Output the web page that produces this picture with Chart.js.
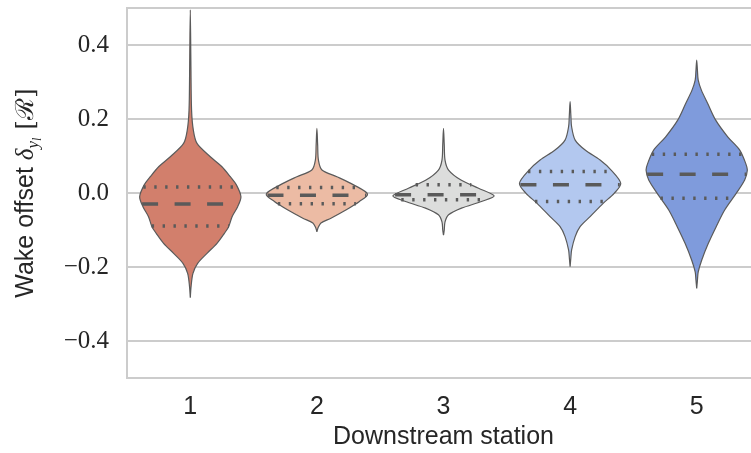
<!DOCTYPE html>
<html lang="en">
<head>
    <meta charset="UTF-8">
    <title>Wake offset per downstream station</title>
    <script src="https://cdn.jsdelivr.net/npm/chart.js@4.4.1/dist/chart.umd.min.js"></script>
    <style>
        html, body { margin: 0; padding: 0; overflow: hidden; background: #fff; }
        #play { width: 760px; height: 453px; }
    </style>
</head>
<body>
<div id="play">
    <canvas id="myChart" width="760" height="453"></canvas>
</div>
<script>
    // categories
    const stations = ['1', '2', '3', '4', '5'];

    // violin outlines: y value and half width (in category units) from bottom tip to top tip
    const v1Y = [-0.283, -0.253, -0.217, -0.190, -0.163, -0.136, -0.109, -0.091, -0.064, -0.037, -0.010, 0.022, 0.044, 0.071, 0.098, 0.134, 0.170, 0.224, 0.341, 0.495];
    const v1W = [0, 0.006, 0.021, 0.058, 0.132, 0.211, 0.269, 0.303, 0.330, 0.374, 0.400, 0.364, 0.316, 0.250, 0.158, 0.053, 0.024, 0.010, 0.005, 0];
    const v2Y = [-0.105, -0.095, -0.081, -0.068, -0.046, -0.023, -0.003, 0.022, 0.044, 0.062, 0.089, 0.130, 0.175];
    const v2W = [0, 0.008, 0.032, 0.111, 0.229, 0.336, 0.400, 0.290, 0.158, 0.040, 0.012, 0.006, 0];
    const v3Y = [-0.114, -0.100, -0.078, -0.059, -0.041, -0.023, -0.008, 0.013, 0.035, 0.062, 0.089, 0.130, 0.175];
    const v3W = [0, 0.006, 0.012, 0.040, 0.142, 0.300, 0.400, 0.277, 0.138, 0.040, 0.012, 0.006, 0];
    const v4Y = [-0.199, -0.175, -0.154, -0.118, -0.091, -0.064, -0.028, -0.001, 0.026, 0.062, 0.089, 0.116, 0.143, 0.179, 0.210, 0.247];
    const v4W = [0, 0.006, 0.012, 0.040, 0.079, 0.158, 0.261, 0.348, 0.400, 0.324, 0.237, 0.119, 0.040, 0.012, 0.006, 0];
    const v5Y = [-0.258, -0.235, -0.213, -0.181, -0.136, -0.091, -0.046, -0.001, 0.035, 0.062, 0.080, 0.116, 0.152, 0.197, 0.242, 0.278, 0.305, 0.330, 0.359];
    const v5W = [0, 0.006, 0.012, 0.040, 0.092, 0.154, 0.221, 0.312, 0.379, 0.400, 0.387, 0.340, 0.245, 0.150, 0.087, 0.037, 0.012, 0.006, 0];

    // quartiles [q1, median, q3]
    const q1 = [-0.089, -0.030, 0.016];
    const q2 = [-0.029, -0.006, 0.015];
    const q3 = [-0.018, -0.005, 0.022];
    const q4 = [-0.023, 0.022, 0.058];
    const q5 = [-0.014, 0.051, 0.105];

    // y axis ticks
    const yTicks = [-0.4, -0.2, 0.0, 0.2, 0.4];
    const yTickLabels = ['\u22120.4', '\u22120.2', '0.0', '0.2', '0.4'];

    const fillColors = ['#d27f6c', '#ecbba4', '#dcdddc', '#b3c8ef', '#7f9bdc'];
    const lineColor = '#5a5a5a';

    const allY = [v1Y, v2Y, v3Y, v4Y, v5Y];
    const allW = [v1W, v2W, v3W, v4W, v5W];
    const allQ = [q1, q2, q3, q4, q5];

    function outline(i, ys, ws) {
        const pts = [];
        for (let k = 0; k < ys.length; k++) pts.push({x: i + ws[k], y: ys[k]});
        for (let k = ys.length - 2; k >= 0; k--) pts.push({x: i - ws[k], y: ys[k]});
        return pts;
    }

    // width of the violin at a given y (for the inner quartile lines)
    function widthAt(ys, ws, y) {
        for (let k = 0; k < ys.length - 1; k++) {
            if (y >= ys[k] && y <= ys[k + 1]) {
                const t = (y - ys[k]) / (ys[k + 1] - ys[k]);
                return ws[k] + t * (ws[k + 1] - ws[k]);
            }
        }
        return 0;
    }

    const datasets = [];
    stations.forEach((s, i) => {
        datasets.push({
            data: outline(i, allY[i], allW[i]),
            showLine: true,
            fill: 'shape',
            backgroundColor: fillColors[i],
            borderColor: lineColor,
            borderWidth: 1.2,
            tension: 0.3,
            pointRadius: 0,
            order: 2
        });
    });
    stations.forEach((s, i) => {
        allQ[i].forEach((q, j) => {
            const w = widthAt(allY[i], allW[i], q);
            datasets.push({
                data: [{x: i - w, y: q}, {x: i + w, y: q}],
                showLine: true,
                fill: false,
                borderColor: lineColor,
                borderWidth: 3.5,
                borderCapStyle: 'butt',
                borderDash: j === 1 ? [16, 16.5] : [2.4, 8.5],
                pointRadius: 0,
                order: 1
            });
        });
    });

    // y axis title with subscript, drawn as text parts
    const yTitle = {
        id: 'yTitle',
        afterDraw(chart) {
            const ctx = chart.ctx;
            const parts = [
                {t: 'Wake offset ', f: '25px "Liberation Sans"', dy: 0},
                {t: '\u03B4', f: 'italic 25px "Liberation Serif"', dy: 0},
                {t: 'y', f: 'italic 17px "Liberation Serif"', dy: 5},
                {t: 'l', f: 'italic 12px "Liberation Serif"', dy: 8},
                {t: ' [\u211B]', f: '25px "DejaVu Serif"', dy: 0}
            ];
            ctx.save();
            let total = 0;
            parts.forEach(p => { ctx.font = p.f; p.w = ctx.measureText(p.t).width; total += p.w; });
            const cy = (chart.chartArea.top + chart.chartArea.bottom) / 2;
            ctx.translate(33, cy);
            ctx.rotate(-Math.PI / 2);
            ctx.fillStyle = '#262626';
            ctx.textBaseline = 'alphabetic';
            ctx.textAlign = 'left';
            let x = -total / 2;
            parts.forEach(p => { ctx.font = p.f; ctx.fillText(p.t, x, p.dy); x += p.w; });
            ctx.restore();
        }
    };

    new Chart(document.getElementById('myChart'), {
        type: 'scatter',
        data: {datasets: datasets},
        options: {
            responsive: false,
            animation: false,
            layout: {padding: {top: 8, left: 0, right: 0, bottom: 0}},
            plugins: {legend: {display: false}, tooltip: {enabled: false}},
            scales: {
                x: {
                    type: 'linear',
                    min: -0.5,
                    max: 4.5,
                    afterBuildTicks: scale => { scale.ticks = stations.map((s, i) => ({value: i})); },
                    afterFit: scale => { scale.height = 75; scale.paddingLeft = 0; scale.paddingRight = 0; },
                    grid: {display: false, drawTicks: false},
                    border: {display: true, color: '#cccccc', width: 2},
                    ticks: {
                        padding: 14,
                        color: '#262626',
                        font: {family: 'Liberation Sans', size: 25},
                        callback: v => stations[v]
                    },
                    title: {
                        display: true,
                        text: 'Downstream station',
                        color: '#262626',
                        font: {family: 'Liberation Sans', size: 25},
                        padding: {top: 0, bottom: 1}
                    }
                },
                y: {
                    min: -0.5,
                    max: 0.5,
                    afterBuildTicks: scale => { scale.ticks = [-0.5].concat(yTicks, [0.5]).map(v => ({value: v})); },
                    afterFit: scale => { scale.width = 127; scale.paddingTop = 0; scale.paddingBottom = 0; },
                    grid: {color: '#cccccc', lineWidth: 2, drawTicks: false},
                    border: {display: true, color: '#cccccc', width: 2},
                    ticks: {
                        padding: 18,
                        color: '#262626',
                        font: {family: 'Liberation Serif', size: 25},
                        callback: v => { const k = yTicks.indexOf(v); return k >= 0 ? yTickLabels[k] : ''; }
                    }
                }
            }
        },
        plugins: [yTitle]
    });
</script>
</body>
</html>
